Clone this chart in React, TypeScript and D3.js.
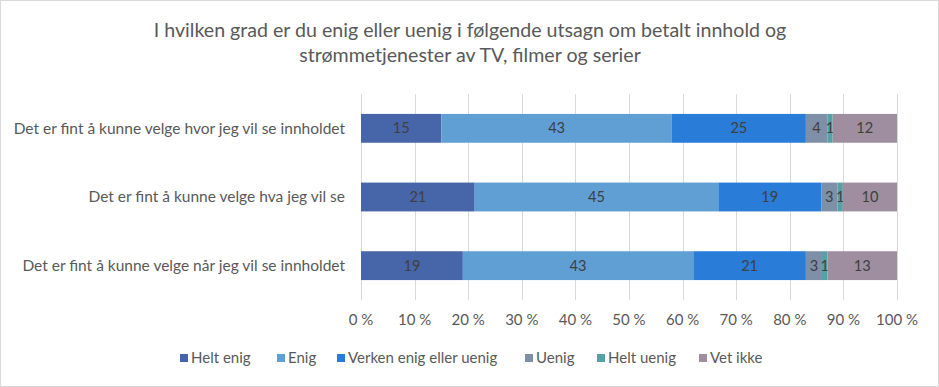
import React, { useEffect, useRef } from "react";
import * as d3 from "d3";

const categories = [
  "Det er fint å kunne velge hvor jeg vil se innholdet",
  "Det er fint å kunne velge hva jeg vil se",
  "Det er fint å kunne velge når jeg vil se innholdet",
];

const seriesNames = ["Helt enig", "Enig", "Verken enig eller uenig", "Uenig", "Helt uenig", "Vet ikke"];

const heltEnig = [15, 21, 19];
const enig = [43, 45, 43];
const verken = [25, 19, 21];
const uenig = [4, 3, 3];
const heltUenig = [1, 1, 1];
const vetIkke = [12, 10, 13];

const colors = ["#4765A9", "#5F9FD3", "#297CD7", "#7E8FA8", "#56A0A8", "#9E8E9F"];

const tickValues = [0, 0.1, 0.2, 0.3, 0.4, 0.5, 0.6, 0.7, 0.8, 0.9, 1];

const titleLines = [
  "I hvilken grad er du enig eller uenig i følgende utsagn om betalt innhold og",
  "strømmetjenester av TV, filmer og serier",
];

export default function App() {
  const svgRef = useRef<SVGSVGElement>(null);

  useEffect(() => {
    if (!svgRef.current) return;
    const width = 939;
    const height = 387;
    const font = "Lato, 'Open Sans', sans-serif";
    const textColor = "#595959";

    const svg = d3.select(svgRef.current).attr("width", width).attr("height", height);
    svg.selectAll("*").remove();

    svg
      .append("rect")
      .attr("x", 0.5)
      .attr("y", 0.5)
      .attr("width", width - 1)
      .attr("height", height - 1)
      .attr("fill", "#fff")
      .attr("stroke", "#d9d9d9");

    // title
    titleLines.forEach((t, i) => {
      svg
        .append("text")
        .attr("x", 470)
        .attr("y", 37 + i * 25)
        .attr("text-anchor", "middle")
        .style("font-family", font)
        .style("font-size", "19.6px")
        .style("fill", textColor)
        .text(t);
    });

    const table = categories.map((c, i) => ({
      category: c,
      [seriesNames[0]]: heltEnig[i],
      [seriesNames[1]]: enig[i],
      [seriesNames[2]]: verken[i],
      [seriesNames[3]]: uenig[i],
      [seriesNames[4]]: heltUenig[i],
      [seriesNames[5]]: vetIkke[i],
    }));

    const stacked = d3
      .stack<any>()
      .keys(seriesNames)
      .offset(d3.stackOffsetExpand)(table);

    const x = d3.scaleLinear().domain([0, 1]).range([361, 897]);
    const y = d3.scaleBand().domain(categories).range([94, 300]).paddingInner(0.58).paddingOuter(0.29);

    // gridlines
    svg
      .append("g")
      .selectAll("line")
      .data(tickValues)
      .enter()
      .append("line")
      .attr("x1", (d) => Math.round(x(d)) + 0.5)
      .attr("x2", (d) => Math.round(x(d)) + 0.5)
      .attr("y1", 94)
      .attr("y2", 300)
      .attr("stroke", "#d9d9d9")
      .attr("stroke-width", 1);

    // tick labels
    svg
      .append("g")
      .selectAll("text")
      .data(tickValues)
      .enter()
      .append("text")
      .attr("x", (d) => x(d))
      .attr("y", 325)
      .attr("text-anchor", "middle")
      .style("font-family", font)
      .style("font-size", "15px")
      .style("fill", textColor)
      .text((d) => `${Math.round(d * 100)} %`);

    // category labels
    svg
      .append("g")
      .selectAll("text")
      .data(categories)
      .enter()
      .append("text")
      .attr("x", 345)
      .attr("y", (d) => (y(d) || 0) + y.bandwidth() / 2)
      .attr("dy", "0.35em")
      .attr("text-anchor", "end")
      .style("font-family", font)
      .style("font-size", "15.5px")
      .style("fill", textColor)
      .text((d) => d);

    // bars
    const layers = svg
      .append("g")
      .selectAll("g")
      .data(stacked)
      .enter()
      .append("g")
      .attr("fill", (_d, i) => colors[i]);

    layers
      .selectAll("rect")
      .data((d) => d.map((p) => ({ p, key: d.key })))
      .enter()
      .append("rect")
      .attr("x", (d) => x(d.p[0]))
      .attr("width", (d) => x(d.p[1]) - x(d.p[0]))
      .attr("y", (d) => y(d.p.data.category) || 0)
      .attr("height", y.bandwidth());

    layers
      .selectAll("text")
      .data((d) => d.map((p) => ({ p, key: d.key })))
      .enter()
      .append("text")
      .attr("x", (d) => (x(d.p[0]) + x(d.p[1])) / 2)
      .attr("y", (d) => (y(d.p.data.category) || 0) + y.bandwidth() / 2)
      .attr("dy", "0.35em")
      .attr("text-anchor", "middle")
      .style("font-family", font)
      .style("font-size", "14.6px")
      .style("fill", "#404040")
      .text((d) => d.p.data[d.key]);

    // legend
    const legendX = [180, 277, 337, 525, 597, 699];
    const legend = svg
      .append("g")
      .selectAll("g")
      .data(seriesNames)
      .enter()
      .append("g")
      .attr("transform", (_d, i) => `translate(${legendX[i]},358)`);

    legend
      .append("rect")
      .attr("x", 0)
      .attr("y", -4)
      .attr("width", 8)
      .attr("height", 8)
      .attr("fill", (_d, i) => colors[i]);

    legend
      .append("text")
      .attr("x", 11)
      .attr("y", 0)
      .attr("dy", "0.35em")
      .style("font-family", font)
      .style("font-size", "15px")
      .style("fill", textColor)
      .text((d) => d);
  }, []);

  return (
    <div style={{ position: "absolute", left: 0, top: 0 }}>
      <svg ref={svgRef} style={{ display: "block" }} />
    </div>
  );
}
